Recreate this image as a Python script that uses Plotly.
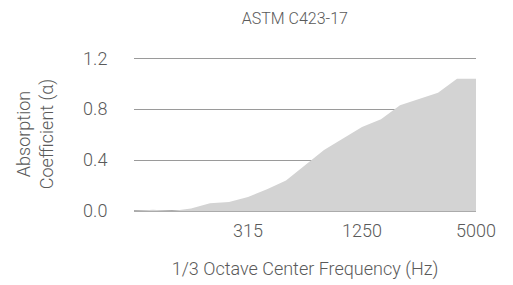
import plotly.graph_objects as go

freqs = ["80", "100", "125", "160", "200", "250", "315", "400", "500", "630",
         "800", "1000", "1250", "1600", "2000", "2500", "3150", "4000", "5000"]
alpha = [0.00, 0.01, 0.00, 0.02, 0.06, 0.07, 0.11, 0.17, 0.24, 0.36,
         0.48, 0.57, 0.66, 0.72, 0.83, 0.88, 0.93, 1.04, 1.04]
x_ticks = ["315", "1250", "5000"]
y_ticks = [0.0, 0.4, 0.8, 1.2]

FONT = "Roboto, 'Liberation Sans', sans-serif"
TXT = "#5a5a5a"

fig = go.Figure()
fig.add_trace(go.Scatter(
    x=freqs, y=alpha, mode="lines", fill="tozeroy",
    line=dict(width=0, color="#d3d3d3"), fillcolor="#d3d3d3",
    hoverinfo="skip", showlegend=False,
))

# page body adds an 8px offset, so the figure is 505x277
fig.update_layout(
    width=505, height=277,
    margin=dict(l=126, r=37, t=49, b=74, autoexpand=False),
    paper_bgcolor="white", plot_bgcolor="white",
    font=dict(family=FONT, color=TXT, size=18, weight=300),
    title=dict(text="ASTM C423-17", x=0.568, xanchor="center", y=0.962, yanchor="middle",
               font=dict(family=FONT, size=16, color=TXT, weight=300)),
    xaxis=dict(
        type="category", categoryorder="array", categoryarray=freqs,
        range=[0, len(freqs) - 1], automargin=False,
        tickmode="array", tickvals=x_ticks, ticktext=x_ticks,
        showgrid=False, showline=False, zeroline=False,
        ticks="outside", ticklen=3, tickcolor="rgba(0,0,0,0)",
        tickfont=dict(size=18, color=TXT),
        title=dict(text="1/3 Octave Center Frequency (Hz)", standoff=22,
                   font=dict(size=18, color=TXT)),
    ),
    yaxis=dict(
        range=[0, 1.21], tickmode="array", tickvals=y_ticks, automargin=False,
        tickformat=".1f",
        showgrid=True, gridcolor="#9a9a9a", gridwidth=1,
        zeroline=True, zerolinecolor="#ababab", zerolinewidth=2,
        showline=False,
        ticks="outside", ticklen=22, tickcolor="rgba(0,0,0,0)",
        tickfont=dict(size=18, color=TXT),
        title=dict(text="Absorption<br>Coefficient (α)", standoff=24,
                   font=dict(size=18, color=TXT)),
    ),
)

fig.write_html("out.html")
